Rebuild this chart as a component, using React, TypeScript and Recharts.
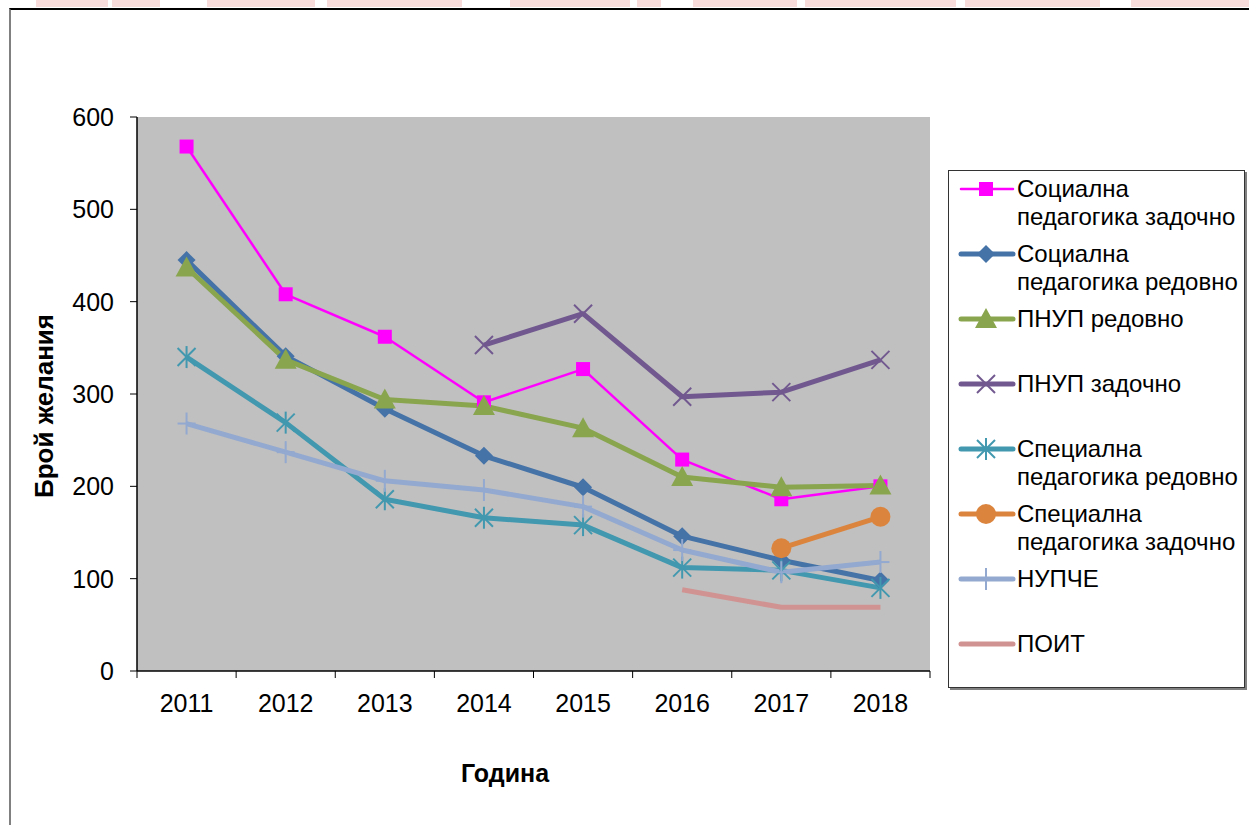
import React from 'react';
import { LineChart, Line, XAxis, YAxis, CartesianGrid, Legend } from 'recharts';

// categories
const years = ['2011', '2012', '2013', '2014', '2015', '2016', '2017', '2018'];

// series values (брой желания)
const socPedZad = [568, 408, 362, 291, 327, 229, 186, 200];
const socPedRed = [445, 341, 284, 233, 199, 146, 120, 98];
const pnupRed = [437, 337, 294, 287, 263, 210, 199, 201];
const pnupZad = [null, null, null, 353, 387, 297, 302, 337];
const specPedRed = [340, 269, 186, 166, 158, 112, 109, 90];
const specPedZad = [null, null, null, null, null, null, 133, 167];
const nupche = [268, 237, 206, 196, 178, 131, 107, 118];
const poit = [null, null, null, null, null, 88, 69, 69];

const yTicks = [0, 100, 200, 300, 400, 500, 600];

const series = [
  { key: 'spz', name: 'Социална педагогика задочно', values: socPedZad, color: '#FF00FF', width: 2.5, shape: 'square' },
  { key: 'spr', name: 'Социална педагогика редовно', values: socPedRed, color: '#4572A7', width: 5, shape: 'diamond' },
  { key: 'pr', name: 'ПНУП редовно', values: pnupRed, color: '#89A54E', width: 5, shape: 'triangle' },
  { key: 'pz', name: 'ПНУП задочно', values: pnupZad, color: '#71588F', width: 5, shape: 'x' },
  { key: 'spcr', name: 'Специална педагогика редовно', values: specPedRed, color: '#4198AF', width: 5, shape: 'star' },
  { key: 'spcz', name: 'Специална педагогика задочно', values: specPedZad, color: '#DB843D', width: 5, shape: 'circle' },
  { key: 'n', name: 'НУПЧЕ', values: nupche, color: '#93A9CF', width: 5, shape: 'plus' },
  { key: 'p', name: 'ПОИТ', values: poit, color: '#D19392', width: 5, shape: 'none' },
];

const data = years.map((year, i) => {
  const row: Record<string, string | number | null> = { year };
  series.forEach(s => { row[s.key] = s.values[i]; });
  return row;
});

// faint pink strip along the top edge (cut-off header of the page)
const topStrip = [[36, 108], [112, 160], [207, 315], [327, 462], [510, 630], [637, 661], [693, 797], [805, 956], [965, 1100], [1131, 1249]];

const FONT = '"Liberation Sans", Arial, sans-serif';
const X_TICK = 7;
const X_MARGIN = 16;

const marker = (shape: string, cx: number, cy: number, color: string) => {
  switch (shape) {
    case 'square':
      return <rect x={cx - 7} y={cy - 7} width={14} height={14} fill={color} />;
    case 'diamond':
      return <polygon points={`${cx},${cy - 9} ${cx + 9},${cy} ${cx},${cy + 9} ${cx - 9},${cy}`} fill={color} />;
    case 'triangle':
      return <polygon points={`${cx},${cy - 11} ${cx + 11},${cy + 9} ${cx - 11},${cy + 9}`} fill={color} />;
    case 'x':
      return (
        <g stroke={color} strokeWidth={2}>
          <line x1={cx - 9} y1={cy - 9} x2={cx + 9} y2={cy + 9} />
          <line x1={cx - 9} y1={cy + 9} x2={cx + 9} y2={cy - 9} />
        </g>
      );
    case 'star':
      return (
        <g stroke={color} strokeWidth={2}>
          <line x1={cx - 9} y1={cy - 9} x2={cx + 9} y2={cy + 9} />
          <line x1={cx - 9} y1={cy + 9} x2={cx + 9} y2={cy - 9} />
          <line x1={cx} y1={cy - 11} x2={cx} y2={cy + 11} />
        </g>
      );
    case 'circle':
      return <circle cx={cx} cy={cy} r={10} fill={color} />;
    case 'plus':
      return (
        <g stroke={color} strokeWidth={2}>
          <line x1={cx} y1={cy - 11} x2={cx} y2={cy + 11} />
          <line x1={cx - 9} y1={cy} x2={cx + 9} y2={cy} />
        </g>
      );
    default:
      return null;
  }
};

const makeDot = (shape: string, color: string) => (props: any) => {
  const { cx, cy, index, value } = props;
  if (shape === 'none' || cy == null || value == null || isNaN(cy)) return <g key={`d-${index}`} />;
  return <g key={`d-${index}`}>{marker(shape, cx, cy, color)}</g>;
};

// year label plus Excel-style tick marks on the category boundaries
const YearTick = (props: any) => {
  const { x, y, payload, index, visibleTicksCount } = props;
  const half = payload.offset || 0;
  const top = y - X_MARGIN - X_TICK;
  const last = index === (visibleTicksCount ?? years.length) - 1;
  return (
    <g>
      <line x1={x - half} x2={x - half} y1={top} y2={top + X_TICK} stroke="#000" />
      {last && <line x1={x + half} x2={x + half} y1={top} y2={top + X_TICK} stroke="#000" />}
      <text x={x} y={y} dy="0.71em" textAnchor="middle" fontSize={25} fill="#000" fontFamily={FONT}>
        {payload.value}
      </text>
    </g>
  );
};

const renderLegend = () => (
  <div
    style={{
      width: 297,
      height: 518,
      border: '1px solid #333',
      boxShadow: '2px 2px 0 #808080',
      background: '#fff',
      paddingTop: 4,
      boxSizing: 'border-box',
      fontFamily: FONT,
    }}
  >
    {series.map(s => (
      <div key={s.key} style={{ position: 'relative', height: 65 }}>
        <svg style={{ position: 'absolute', left: 9, top: 0 }} width={58} height={28}>
          <line x1={3} x2={55} y1={14} y2={14} stroke={s.color} strokeWidth={s.width} strokeLinecap="round" />
          {marker(s.shape, 28, 14, s.color)}
        </svg>
        <div style={{ position: 'absolute', left: 68, top: 0, width: 226, fontSize: 24, lineHeight: '28px', color: '#000' }}>
          {s.name}
        </div>
      </div>
    ))}
  </div>
);

export default function App() {
  return (
    <div style={{ position: 'absolute', left: 0, top: 0, width: 1249, height: 825, background: '#fff', overflow: 'hidden', fontFamily: FONT }}>
      {topStrip.map(([a, b]) => (
        <div key={a} style={{ position: 'absolute', left: a, top: 0, width: b - a, height: 7, background: '#f8dcdc' }} />
      ))}
      <div style={{ position: 'absolute', left: 9, top: 8, width: 1260, height: 830, borderLeft: '2px solid #808080', borderTop: '2px solid #000' }} />

      <div style={{ position: 'absolute', left: 0, top: 0 }}>
        <LineChart width={1249} height={825} data={data} margin={{ top: 117, left: 77, right: 319, bottom: 114 }}>
          <CartesianGrid xAxisId="cat" yAxisId="left" horizontal={false} vertical={false} fill="#c0c0c0" stroke="none" />
          <XAxis
            xAxisId="top"
            orientation="top"
            type="number"
            domain={[0, 1]}
            allowDataOverflow
            height={0}
            tick={false}
            tickLine={false}
            axisLine={{ stroke: '#808080', strokeWidth: 2 }}
          />
          <XAxis
            xAxisId="cat"
            dataKey="year"
            scale="band"
            height={40}
            tickLine={false}
            tickSize={X_TICK}
            tickMargin={X_MARGIN}
            axisLine={{ stroke: '#000', strokeWidth: 1.5 }}
            tick={YearTick}
            interval={0}
          />
          <YAxis
            yAxisId="left"
            domain={[0, 600]}
            ticks={yTicks}
            interval={0}
            width={60}
            tickSize={7}
            tickMargin={16}
            tickLine={{ stroke: '#000' }}
            axisLine={{ stroke: '#000', strokeWidth: 1.5 }}
            tick={{ fontSize: 25, fill: '#000', fontFamily: FONT }}
          />
          <YAxis
            yAxisId="right"
            orientation="right"
            domain={[0, 600]}
            width={0}
            tick={false}
            tickLine={false}
            axisLine={{ stroke: '#808080', strokeWidth: 2 }}
          />
          <Legend layout="vertical" align="center" verticalAlign="middle" content={renderLegend} wrapperStyle={{ left: 948, top: 170, width: 300, height: 520 }} />
          {series.map(s => (
            <Line
              key={s.key}
              xAxisId="cat"
              yAxisId="left"
              type="linear"
              dataKey={s.key}
              name={s.name}
              stroke={s.color}
              strokeWidth={s.width}
              strokeLinejoin="round"
              dot={makeDot(s.shape, s.color)}
              activeDot={false}
              connectNulls={false}
              isAnimationActive={false}
            />
          ))}
        </LineChart>
      </div>

      <div
        style={{
          position: 'absolute',
          left: 44,
          top: 406,
          transform: 'translate(-50%, -50%) rotate(-90deg)',
          fontSize: 26,
          fontWeight: 'bold',
          whiteSpace: 'nowrap',
          color: '#000',
        }}
      >
        Брой желания
      </div>
      <div
        style={{
          position: 'absolute',
          left: 505,
          top: 773,
          transform: 'translate(-50%, -50%)',
          fontSize: 25,
          fontWeight: 'bold',
          whiteSpace: 'nowrap',
          color: '#000',
        }}
      >
        Година
      </div>
    </div>
  );
}
